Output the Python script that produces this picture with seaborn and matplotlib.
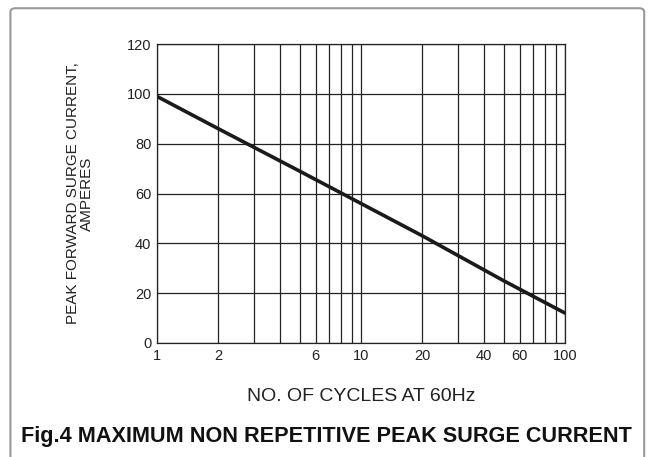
import matplotlib
matplotlib.use('Agg')
import matplotlib.pyplot as plt
from matplotlib.patches import FancyBboxPatch
import seaborn as sns
import pandas as pd

# Surge current curve
cycles = [1, 2, 5, 10, 20, 50, 100]
current = [99, 86, 69, 56, 43, 25, 12]

grid_x = [1, 2, 3, 4, 5, 6, 7, 8, 9, 10, 20, 30, 40, 50, 60, 70, 80, 90, 100]
xtick_vals = [1, 2, 6, 10, 20, 40, 60, 100]
xtick_labels = ['1', '2', '6', '10', '20', '40', '60', '100']
ytick_vals = [0, 20, 40, 60, 80, 100, 120]

data = pd.DataFrame({'cycles': cycles, 'current': current})

sns.set_style('white')
plt.rcParams['font.family'] = ['Liberation Sans', 'DejaVu Sans']

fig = plt.figure(figsize=(6.52, 4.57), dpi=100)
ax = fig.add_axes([0.2408, 0.2495, 0.6258, 0.654])

sns.lineplot(data=data, x='cycles', y='current', color='#1a1a1a', linewidth=2.6, ax=ax)

ax.set_xscale('log')
ax.set_xlim(1, 100)
ax.set_ylim(0, 120)

# grid at every log step
for gx in grid_x:
    ax.axvline(gx, color='#222222', linewidth=0.9, zorder=0)
for gy in ytick_vals:
    ax.axhline(gy, color='#222222', linewidth=0.9, zorder=0)

ax.set_xticks(xtick_vals)
ax.set_xticklabels(xtick_labels)
ax.xaxis.set_minor_locator(matplotlib.ticker.NullLocator())
ax.set_yticks(ytick_vals)
ax.tick_params(axis='both', length=0, labelsize=10.5, colors='#222222', pad=4)

for s in ax.spines.values():
    s.set_color('#222222')
    s.set_linewidth(0.9)

ax.set_xlabel('NO. OF CYCLES AT 60Hz', fontsize=14, color='#222222', labelpad=18)
ax.set_ylabel('PEAK FORWARD SURGE CURRENT,\nAMPERES', fontsize=11, color='#222222',
              labelpad=24, linespacing=0.95)

fig.text(0.5, 0.044, 'Fig.4 MAXIMUM NON REPETITIVE PEAK SURGE CURRENT',
         ha='center', va='center', fontsize=15.6, fontweight='bold',
         color='#111111')

border = FancyBboxPatch((0.016, -0.05), 0.972, 1.032, boxstyle='round,pad=0,rounding_size=0.008',
                        transform=fig.transFigure, fill=False, edgecolor='#999999', linewidth=1.5)
fig.patches.append(border)

fig.savefig('out.png', dpi=100)
